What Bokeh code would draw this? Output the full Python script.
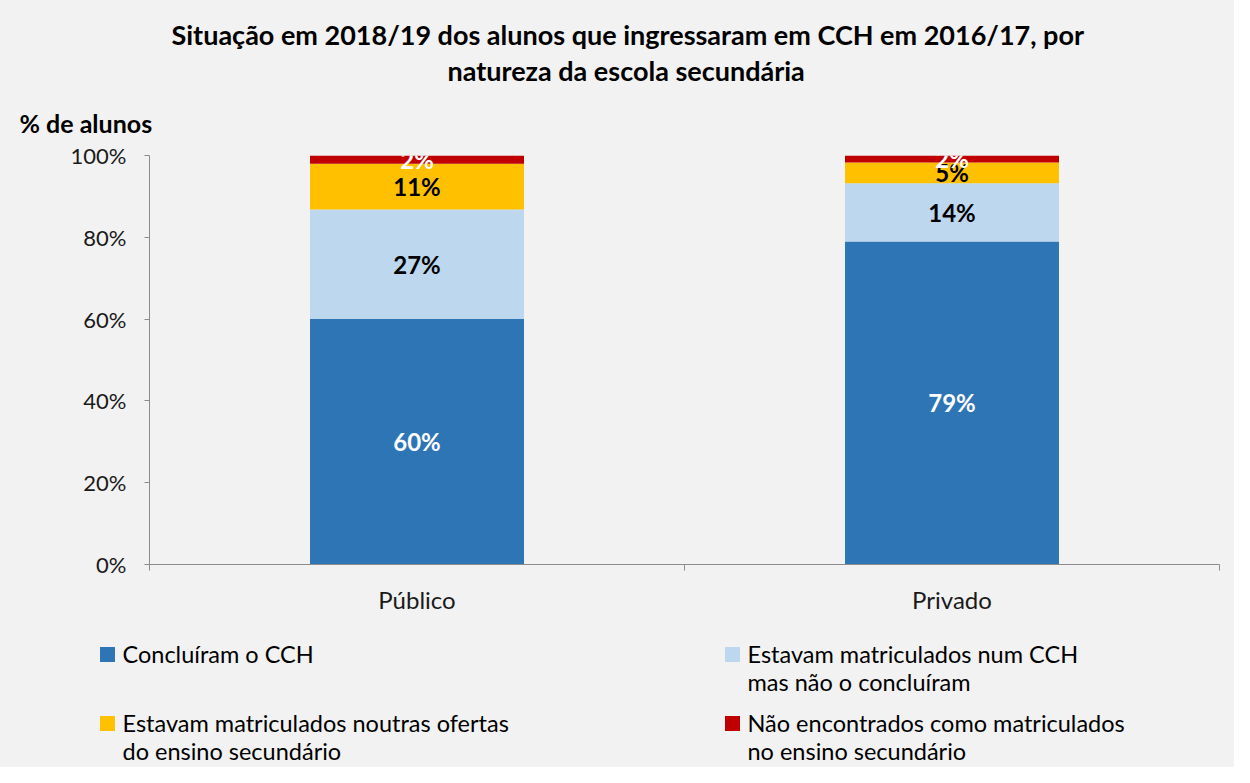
from bokeh.plotting import figure
from bokeh.models import Range1d, FixedTicker, ColumnDataSource, Title
from bokeh.layouts import column
from bokeh.embed import file_html
from bokeh.resources import INLINE
from bokeh.core.properties import value

# ---------------- data ----------------
categories = ["Público", "Privado"]
series = [
    "Concluíram o CCH",
    "Estavam matriculados num CCH\nmas não o concluíram",
    "Estavam matriculados noutras ofertas\ndo ensino secundário",
    "Não encontrados como matriculados\nno ensino secundário",
]
concluiram = [60.1, 79.0]
matriculados_cch = [26.7, 14.2]
noutras_ofertas = [11.2, 5.1]
nao_encontrados = [2.0, 1.7]
y_ticks = [0, 20, 40, 60, 80, 100]

title_lines = ["Situação em 2018/19 dos alunos que ingressaram em CCH em 2016/17, por",
               "natureza da escola secundária"]
y_title = "% de alunos"

# ---------------- styles ----------------
colors = ["#2E75B6", "#BDD7EE", "#FFC000", "#C00000"]
label_colors = ["#FFFFFF", "#000000", "#000000", "#FFFFFF"]
BG = "#F2F2F2"
AX = "#8C8C8C"
FONT = "Lato"
W = 1234
TOP_H = 622
LEG_H = 145

p = figure(width=W, height=TOP_H, x_range=Range1d(0, 2), y_range=Range1d(0, 100),
           toolbar_location=None, output_backend="svg",
           min_border_left=149, min_border_right=15, min_border_top=155, min_border_bottom=58)
p.frame_align = False
p.background_fill_color = BG
p.border_fill_color = BG
p.outline_line_color = None
p.grid.visible = False

xs = [i + 0.5 for i in range(len(categories))]
keys = ["c", "m", "o", "n"]
data = dict(x=xs, c=concluiram, m=matriculados_cch, o=noutras_ofertas, n=nao_encontrados)
src = ColumnDataSource(data)
p.vbar_stack(keys, x="x", width=0.4, color=colors, line_color=None, source=src)

# segment labels
lx, ly, lt, lc = [], [], [], []
for ci, x in enumerate(xs):
    base = 0
    for si, k in enumerate(keys):
        v = data[k][ci]
        lx.append(x)
        ly.append(base + v / 2)
        lt.append(f"{round(v)}%")
        lc.append(label_colors[si])
        base += v
p.text(x=lx, y=ly, text=lt, text_color=lc, text_align="center", text_baseline="middle",
       text_font=value(FONT), text_font_style="bold", text_font_size="24px")

# axes
xa = p.xaxis[0]
xa.ticker = FixedTicker(ticks=xs, minor_ticks=[0, 1, 2])
xa.major_label_overrides = {x: c for x, c in zip(xs, categories)}
xa.major_tick_line_color = None
xa.major_tick_out = 0
xa.major_tick_in = 0
xa.minor_tick_in = 0
xa.minor_tick_out = 6
xa.minor_tick_line_color = AX
xa.axis_line_color = AX
xa.major_label_standoff = 14
xa.major_label_text_font = FONT
xa.major_label_text_font_size = "24px"
xa.major_label_text_color = "#1A1A1A"

ya = p.yaxis[0]
ya.ticker = FixedTicker(ticks=y_ticks, minor_ticks=[])
ya.major_label_overrides = {t: f"{t}%" for t in y_ticks}
ya.major_tick_in = 0
ya.major_tick_out = 5
ya.major_tick_line_color = AX
ya.axis_line_color = AX
ya.major_label_standoff = 18
ya.major_label_text_font = FONT
ya.major_label_text_font_size = "22px"
ya.major_label_text_color = "#1A1A1A"

# titles (stacked outward from the frame)
p.add_layout(Title(text=y_title, align="left", offset=-130, text_font=FONT, text_color="#000000",
                   text_font_style="bold", text_font_size="25px", standoff=36), "above")
p.add_layout(Title(text=title_lines[1], align="left", offset=298, text_font=FONT, text_color="#000000",
                   text_font_style="bold", text_font_size="27px", standoff=1), "above")
p.add_layout(Title(text=title_lines[0], align="left", offset=22, text_font=FONT, text_color="#000000",
                   text_font_style="bold", text_font_size="27px", standoff=2), "above")

# ---------------- legend (own figure, pixel space) ----------------
lg = figure(width=W, height=LEG_H, x_range=Range1d(0, W), y_range=Range1d(LEG_H, 0),
            toolbar_location=None, output_backend="svg",
            x_axis_location=None, y_axis_location=None, min_border=0)
lg.frame_align = False
lg.background_fill_color = BG
lg.border_fill_color = BG
lg.outline_line_color = None
lg.grid.visible = False

col_x = [107, 732]
row_y = [31, 100]
line_gap = 28
sq_x, sq_y, sq_c = [], [], []
tx, ty, tt = [], [], []
for i, name in enumerate(series):
    c, r = i % 2, i // 2
    sq_x.append(col_x[c]); sq_y.append(row_y[r] + 1); sq_c.append(colors[i])
    for j, line in enumerate(name.split("\n")):
        tx.append(col_x[c] + 15)
        ty.append(row_y[r] + j * line_gap)
        tt.append(line)
lg.rect(x=sq_x, y=sq_y, width=15, height=15, fill_color=sq_c, line_color=None)
lg.text(x=tx, y=ty, text=tt, text_align="left", text_baseline="middle",
        text_font=value(FONT), text_font_size="23.5px", text_color="#000000")

layout = column(p, lg, spacing=0, styles={"background-color": BG})
open("out.html", "w").write(file_html(layout, INLINE))
